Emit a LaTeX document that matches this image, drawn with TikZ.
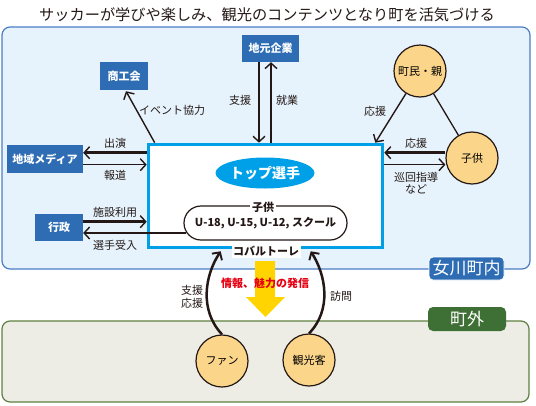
\documentclass[tikz,border=0pt]{standalone}
\usepackage{fontspec}
\setmainfont{Noto Sans CJK JP}
\usetikzlibrary{calc,arrows.meta,shapes.geometric}
\definecolor{boxblue}{HTML}{2E6DB4}
\definecolor{regfill}{HTML}{E6F3FC}
\definecolor{regline}{HTML}{4A7EC4}
\definecolor{outfill}{HTML}{EDEDE6}
\definecolor{outline}{HTML}{5F8040}
\definecolor{outlabel}{HTML}{3E7035}
\definecolor{cfill}{HTML}{FBD58A}
\definecolor{ink}{HTML}{231815}
\definecolor{cyanb}{HTML}{00A0E9}
\definecolor{yel}{HTML}{FFD400}
\definecolor{redt}{HTML}{E60012}
\tikzset{
  bluebox/.style={fill=boxblue,text=white,font=\bfseries\fontsize{11}{12}\selectfont,inner sep=0pt,minimum height=28pt},
  circ/.style={circle,draw=ink,line width=1.2pt,fill=cfill,minimum size=52pt,inner sep=0pt,font=\fontsize{11}{12}\selectfont},
  lbl/.style={font=\fontsize{11}{12.5}\selectfont,text=ink,inner sep=1pt},
  thk/.style={draw=ink,line width=2.7pt,-{Straight Barb[length=5.5pt,width=12pt,line width=1.4pt]}},
  thn/.style={draw=ink,line width=1.4pt,-{Straight Barb[length=5.5pt,width=12pt,line width=1.4pt]}},
  crv/.style={draw=ink,line width=2.5pt,-{Straight Barb[length=5.5pt,width=12pt,line width=1.9pt]}},
}
\begin{document}
\begin{tikzpicture}[x=1pt,y=-1pt]
\useasboundingbox (0,0) rectangle (536,405);
% regions
\draw[fill=regfill,draw=regline,line width=1.2pt,rounded corners=8pt] (2,27) rectangle (530,269);
\draw[fill=outfill,draw=outline,line width=1.2pt,rounded corners=8pt] (2,321) rectangle (529,402);
\node[fill=boxblue,draw=white,line width=0.8pt,rounded corners=4pt,text=white,font=\fontsize{17}{18}\selectfont,minimum width=75pt,minimum height=23pt,inner sep=0pt] (naibu) at (466.5,268.5) {女川町内};
\node[fill=outlabel,rounded corners=5pt,text=white,font=\fontsize{17}{18}\selectfont,minimum width=78pt,minimum height=24pt,inner sep=0pt] (gaibu) at (467,319) {町外};
% title
\node[font=\fontsize{15.2}{16}\selectfont,text=ink,inner sep=0pt] (title) at (267,15) {サッカーが学びや楽しみ、観光のコンテンツとなり町を活気づける};
% main box
\node[draw=cyanb,line width=3.6pt,fill=white,minimum width=234pt,minimum height=103pt,inner sep=0pt] (main) at (265.5,196) {};
\node[ellipse,fill=cyanb,text=white,minimum width=81pt,minimum height=31pt,inner sep=0pt,font=\bfseries\fontsize{14}{15}\selectfont] (top) at (265,173) {トップ選手};
\node[draw=ink,line width=1.2pt,rounded corners=17pt,minimum width=163pt,minimum height=34pt,inner sep=0pt,font=\bfseries\fontsize{11}{12}\selectfont,text=ink] (pill) at (265.5,223) {\raisebox{-3pt}{U-18, U-15, U-12, スクール}};
\node[fill=white,inner sep=2pt,font=\bfseries\fontsize{11}{12}\selectfont,text=ink] (kodomolbl) at (263,207) {子供};
\node[fill=white,inner sep=1.5pt,font=\bfseries\fontsize{11}{12}\selectfont,text=ink] (cobal) at (266,251) {コバルトーレ};
% yellow arrow
\fill[yel] (255,261) -- (275,261) -- (275,297) -- (285,297) -- (265.5,317) -- (246,297) -- (255,297) -- cycle;
\node[font=\bfseries\fontsize{11}{12}\selectfont,text=redt,inner sep=0pt] (hasshin) at (265,283) {情報、魅力の発信};
% boxes
\node[bluebox,minimum width=48pt] (shoko) at (124,76) {商工会};
\node[bluebox,minimum width=57pt,minimum height=27pt] (jimoto) at (270.5,48.5) {地元企業};
\node[bluebox,minimum width=76pt] (media) at (45,159) {地域メディア};
\node[bluebox,minimum width=48pt,minimum height=27pt] (gyosei) at (59,227.5) {行政};
% circles
\node[circ] (chomin) at (420,71) {町民・親};
\node[circ] (kodomo) at (472,158) {子供};
\node[circ] (fan) at (222,361) {ファン};
\node[circ] (kanko) at (309,360) {観光客};
% coordinates
\coordinate (a1) at ($(main.north west)+(8,0)$);
\coordinate (j1) at ($(jimoto.south)+(-11.5,0)$);
\coordinate (j2) at ($(jimoto.south)+(0.5,0)$);
\coordinate (m1) at ($(main.north west)+(0,10)$);
\coordinate (m2) at ($(main.north west)+(0,22)$);
\coordinate (m3) at ($(main.north west)+(0,79)$);
\coordinate (p1) at ($(pill.west)+(3,10)$);
\coordinate (c1) at ($(main.north east)+(-9,0)$);
\coordinate (k1) at ($(main.north east)+(0,10)$);
\coordinate (k2) at ($(main.north east)+(0,22)$);
\coordinate (f1) at ($(main.south west)+(74,2)$);
\coordinate (t1) at ($(main.south west)+(164,2)$);
% connectors
\draw[thn] (a1) -- ($(shoko.south)+(2,1)$);
\node[lbl] (l_event) at (172,110) {イベント協力};
\draw[thn] (j1) -- (j1 |- main.north);
\node[lbl] (l_shien) at (240,100) {支援};
\draw[thk] (j2 |- main.north) -- (j2);
\node[lbl] (l_shugyo) at (287,100) {就業};
\draw[thk] (m1) -- (m1 -| media.east);
\node[lbl] (l_shutsuen) at (115,143) {出演};
\draw[thn] (m2 -| media.east) -- (m2);
\node[lbl] (l_hodo) at (115,175) {報道};
\draw[thk] (m3 -| gyosei.east) -- (m3);
\node[lbl] (l_shisetsu) at (115,212) {施設利用};
\draw[thn] (p1) -- (p1 -| gyosei.east);
\node[lbl] (l_senshu) at (115,245) {選手受入};
\draw[thn] (chomin) -- (c1);
\node[lbl] (l_oen1) at (375,111) {応援};
\draw[line width=1.3pt,draw=ink] (chomin) -- (kodomo);
\draw[thk] (k1 -| kodomo.west) -- (k1);
\node[lbl] (l_oen2) at (416,143) {応援};
\draw[thn] (k2) -- (k2 -| kodomo.west);
\node[lbl,align=center] (l_junkai) at (416,183) {巡回指導\\など};
\draw[crv] (fan.north) .. controls (199,310) and (205,275) .. (f1);
\node[lbl,align=center] (l_fan) at (192,297) {支援\\応援};
\draw[crv] (kanko.north) .. controls (332,310) and (326,275) .. (t1);
\node[lbl] (l_homon) at (341,296) {訪問};
\end{tikzpicture}
\end{document}
